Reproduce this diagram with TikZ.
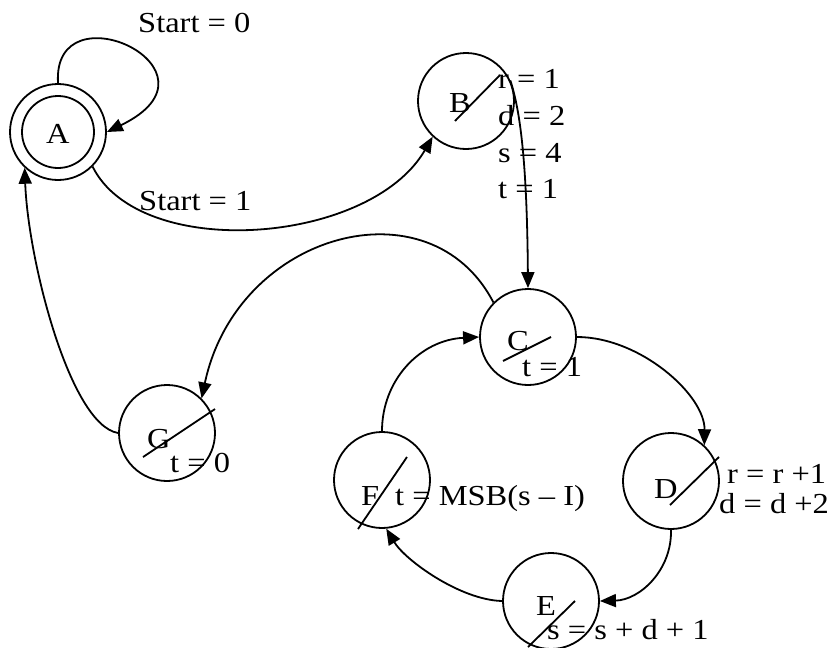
\documentclass[tikz,border=0pt]{standalone}
\usepackage{fontspec}
\setmainfont{Liberation Serif}[FakeStretch=1.12]
\usetikzlibrary{arrows.meta}
\begin{document}
\begin{tikzpicture}[x=1pt,y=-1pt,
  stnode/.style={circle,draw,line width=1.8pt,minimum size=96pt,inner sep=0pt},
  lbl/.style={anchor=base west,inner sep=0pt,font=\fontsize{29}{35}\selectfont},
  edge/.style={line width=1.8pt,-{Triangle[length=16pt,width=13pt]}},
  slash/.style={line width=1.8pt}]
\useasboundingbox (0,0) rectangle (831,648);
% states
\node[stnode] (A) at (58,132) {};
\draw[line width=1.8pt] (A.center) circle (36pt);
\node[stnode] (B) at (466,101) {};
\node[stnode] (C) at (528,337) {};
\node[stnode] (G) at (167,433) {};
\node[stnode] (F) at (382,480) {};
\node[stnode] (D) at (671,481) {};
\node[stnode] (E) at (551,601) {};
% state letters
\node[lbl] (lA) at (46,143) {A};
\node[lbl] (lB) at (449,112) {B};
\node[lbl] (lC) at (507,350) {C};
\node[lbl] (lG) at (147,448) {G};
\node[lbl] (lF) at (361,505) {F};
\node[lbl] (lD) at (654,498) {D};
\node[lbl] (lE) at (536,615) {E};
% slashes
\draw[slash] (455,121) -- (500,75);
\draw[slash] (503,361) -- (551,337);
\draw[slash] (143,457) -- (215,409);
\draw[slash] (358,529) -- (407,457);
\draw[slash] (670,505) -- (719,457);
\draw[slash] (528,647) -- (575,601);
% outputs
\node[lbl] (oB1) at (498,88) {r = 1};
\node[lbl] (oB2) at (498,125) {d = 2};
\node[lbl] (oB3) at (498,162) {s = 4};
\node[lbl] (oB4) at (498,198) {t = 1};
\node[lbl] (oC) at (522,376) {t = 1};
\node[lbl] (oG) at (170,472) {t = 0};
\node[lbl] (oF) at (395,505) {t = MSB(s \textendash{} I)};
\node[lbl] (oD1) at (727,483) {r = r +1};
\node[lbl] (oD2) at (719,513) {d = d +2};
\node[lbl] (oE) at (547,639) {s = s + d + 1};
% transitions
\draw[edge] (A.90) .. controls (52,-15) and (235,70) .. (A.0);
\node[lbl] (t0) at (138,32) {Start = 0};
\draw[edge] (A.-45) .. controls (140,262) and (370,245) .. (B.-133);
\node[lbl] (t1) at (139,210) {Start = 1};
\draw[edge] (B.25) .. controls (520,110) and (527,160) .. (C.north);
\draw[edge] (C.east) .. controls (640,337) and (705,395) .. (D.47);
\draw[edge] (D.south) .. controls (672,570) and (640,600) .. (E.east);
\draw[edge] (E.west) .. controls (460,600) and (405,560) .. (F.-85);
\draw[edge] (F.north) .. controls (382,380) and (420,340) .. (C.west);
\draw[edge] (C.135) .. controls (430,180) and (237,232) .. (G.45);
\draw[edge] (G.west) .. controls (70,425) and (28,260) .. (A.-133);
\end{tikzpicture}
\end{document}
